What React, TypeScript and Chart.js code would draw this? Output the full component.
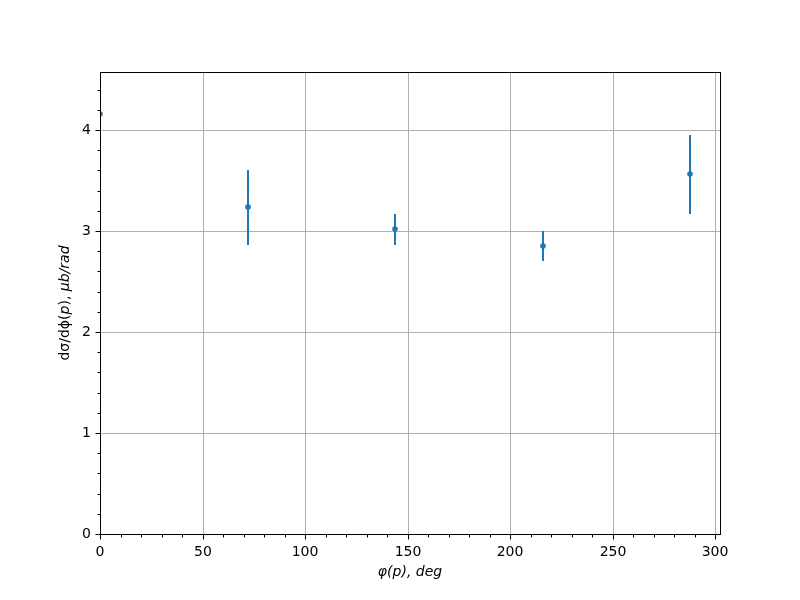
import React, { useEffect, useRef } from "react";
import { Chart, registerables } from "chart.js";

Chart.register(...registerables);

const phiDeg = [0, 72, 144, 216, 288];
const dSigma = [4.16, 3.235, 3.017, 2.848, 3.561];
const dSigmaErr = [0, 0.37, 0.152, 0.15, 0.393];
const xTickValues = [0, 50, 100, 150, 200, 250, 300];
const yTickValues = [0, 1, 2, 3, 4];

const X_MIN = 0;
const X_MAX = 302.4;
const Y_MIN = 0;
const Y_MAX = 4.574;

const BLUE = "#1f77b4";
const FONT = "'DejaVu Sans', sans-serif";

const decorPlugin = {
  id: "decor",
  afterDatasetsDraw(chart: any) {
    const ctx = chart.ctx;
    const xs = chart.scales.x;
    const ys = chart.scales.y;
    ctx.save();
    ctx.strokeStyle = BLUE;
    ctx.lineWidth = 2;
    phiDeg.forEach((x, i) => {
      const e = dSigmaErr[i];
      if (!e) return;
      const px = Math.round(xs.getPixelForValue(x));
      ctx.beginPath();
      ctx.moveTo(px, ys.getPixelForValue(dSigma[i] - e));
      ctx.lineTo(px, ys.getPixelForValue(dSigma[i] + e));
      ctx.stroke();
    });
    ctx.fillStyle = BLUE;
    phiDeg.forEach((x, i) => {
      const px = Math.round(xs.getPixelForValue(x));
      const py = ys.getPixelForValue(dSigma[i]);
      ctx.beginPath();
      ctx.arc(px, py, 2.8, 0, Math.PI * 2);
      ctx.fill();
    });
    ctx.restore();
  },
  afterDraw(chart: any) {
    const ctx = chart.ctx;
    const xs = chart.scales.x;
    const ys = chart.scales.y;
    const ca = chart.chartArea;
    const L = Math.round(ca.left) + 0.5;
    const B = Math.round(ca.bottom) + 0.5;
    const T = Math.round(ca.top) + 0.5;
    const R = Math.round(ca.right) + 0.5;
    ctx.save();
    ctx.fillStyle = "#fff";
    ctx.fillRect(L - 6, T, 5.5, B - T);
    ctx.strokeStyle = "#000";
    ctx.lineWidth = 1;
    ctx.beginPath();
    xTickValues.forEach((v) => {
      const p = Math.round(xs.getPixelForValue(v)) + 0.5;
      ctx.moveTo(p, B);
      ctx.lineTo(p, B + 5);
    });
    yTickValues.forEach((v) => {
      const p = Math.round(ys.getPixelForValue(v)) + 0.5;
      ctx.moveTo(L, p);
      ctx.lineTo(L - 5, p);
    });
    ctx.stroke();
    ctx.beginPath();
    for (let v = 10; v < X_MAX; v += 10) {
      if (v % 50 === 0) continue;
      const p = Math.round(xs.getPixelForValue(v)) + 0.5;
      ctx.moveTo(p, B);
      ctx.lineTo(p, B + 3);
    }
    for (let k = 1; k * 0.2 < Y_MAX; k++) {
      if (k % 5 === 0) continue;
      const p = Math.round(ys.getPixelForValue(k * 0.2)) + 0.5;
      ctx.moveTo(L, p);
      ctx.lineTo(L - 3, p);
    }
    ctx.stroke();
    ctx.strokeRect(L, T, R - L, B - T);
    ctx.fillStyle = "#000";
    ctx.textBaseline = "middle";
    ctx.textAlign = "center";
    ctx.font = `italic 14px ${FONT}`;
    ctx.fillText("φ(p), deg", (ca.left + ca.right) / 2, 572);
    const parts: [string, boolean][] = [
      ["dσ/dϕ(", false],
      ["p", true],
      ["), ", false],
      ["μb/rad", true],
    ];
    ctx.translate(65, (ca.top + ca.bottom) / 2);
    ctx.rotate(-Math.PI / 2);
    const widths = parts.map(([t, it]) => {
      ctx.font = `${it ? "italic " : ""}14px ${FONT}`;
      return ctx.measureText(t).width;
    });
    const total = widths.reduce((a, b) => a + b, 0);
    let pos = -total / 2;
    ctx.textAlign = "left";
    parts.forEach(([t, it], i) => {
      ctx.font = `${it ? "italic " : ""}14px ${FONT}`;
      ctx.fillText(t, pos, 0);
      pos += widths[i];
    });
    ctx.restore();
  },
};

export default function App() {
  const ref = useRef<HTMLCanvasElement>(null);
  useEffect(() => {
    document.body.style.margin = "0";
    const chart = new Chart(ref.current!, {
      type: "scatter",
      data: {
        datasets: [
          {
            data: phiDeg.map((x, i) => ({ x, y: dSigma[i] })),
            pointRadius: 0,
            showLine: false,
            backgroundColor: BLUE,
          },
        ],
      },
      options: {
        animation: false,
        responsive: false,
        layout: { padding: { top: 72, right: 80, left: 0, bottom: 0 } },
        plugins: { legend: { display: false }, tooltip: { enabled: false } },
        scales: {
          x: {
            type: "linear",
            min: X_MIN,
            max: X_MAX,
            alignToPixels: true,
            afterBuildTicks: (s: any) => {
              s.ticks = xTickValues.map((v) => ({ value: v }));
            },
            afterFit: (s: any) => {
              s.height = 66;
            },
            ticks: {
              color: "#000",
              font: { family: FONT, size: 14 },
              padding: 5,
              maxRotation: 0,
            },
            grid: { color: "#b0b0b0", lineWidth: 1, drawTicks: true, tickLength: 5, tickColor: "rgba(0,0,0,0)" },
            border: { display: false },
          },
          y: {
            type: "linear",
            min: Y_MIN,
            max: Y_MAX,
            alignToPixels: true,
            afterBuildTicks: (s: any) => {
              s.ticks = yTickValues.map((v) => ({ value: v }));
            },
            afterFit: (s: any) => {
              s.width = 100;
            },
            ticks: {
              color: "#000",
              font: { family: FONT, size: 14 },
              padding: 4,
            },
            grid: { color: "#b0b0b0", lineWidth: 1, drawTicks: true, tickLength: 5, tickColor: "rgba(0,0,0,0)" },
            border: { display: false },
          },
        },
      },
      plugins: [decorPlugin],
    });
    return () => chart.destroy();
  }, []);
  return (
    <div style={{ position: "absolute", left: 0, top: 0, width: 800, height: 600 }}>
      <canvas ref={ref} width={800} height={600} style={{ width: 800, height: 600 }} />
    </div>
  );
}
